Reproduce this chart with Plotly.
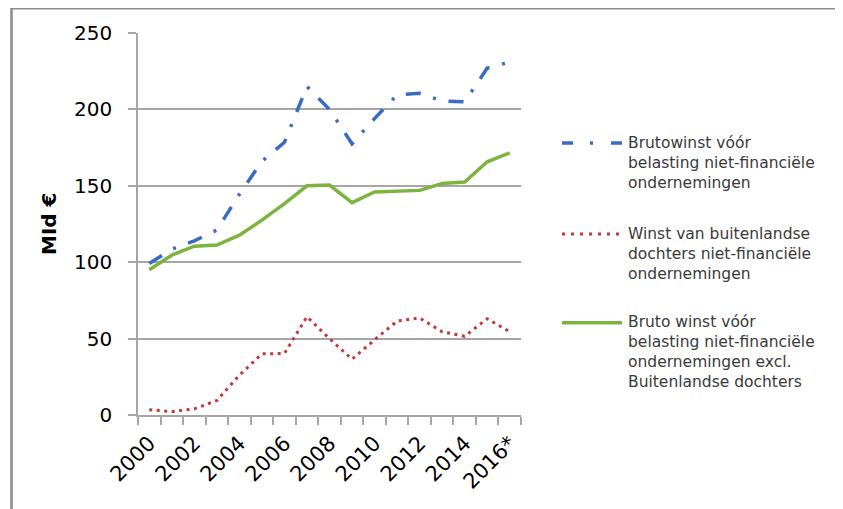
import plotly.graph_objects as go

# ---------------- data ----------------
years = list(range(2000, 2017))
tick_years = [2000, 2002, 2004, 2006, 2008, 2010, 2012, 2014, 2016]
tick_labels = ["2000", "2002", "2004", "2006", "2008", "2010", "2012", "2014", "2016*"]

brutowinst = [99.2, 108.5, 114, 121, 144.5, 166, 178.5, 215, 200, 177.5,
              194, 209.5, 210.5, 205.5, 205, 227, 231]
winst_dochters = [3.5, 2.2, 4, 9.5, 26, 40, 40.3, 64.3, 50, 36.5,
                  49.2, 61.5, 63.5, 54.5, 51.5, 63, 54.5]
bruto_excl = [95, 104.6, 110.5, 111.2, 117.7, 127.5, 138.3, 150, 150.5, 139,
              146, 146.7, 147, 151.5, 152.5, 165.7, 171.6]

series_names = [
    "Brutowinst vóór<br>belasting niet-financiële<br>ondernemingen",
    "Winst van buitenlandse<br>dochters niet-financiële<br>ondernemingen",
    "Bruto winst vóór<br>belasting niet-financiële<br>ondernemingen excl.<br>Buitenlandse dochters",
]
series_values = [brutowinst, winst_dochters, bruto_excl]
series_colors = ["#3A6BC3", "#C0393B", "#7DB33F"]
series_widths = [3.5, 3, 3.5]
series_dash = ["15px,13px,3px,13px", "3px,4.5px", "solid"]
legend_dash = ["11px,17px,3px,18px", "3px,6px", "solid"]

# ---------------- layout geometry (page pixels; page has 8px body margin) ----------------
OFF = 8
W, H = 843 - OFF, 509 - OFF
PLOT_X0, PLOT_X1, PLOT_Y0, PLOT_Y1 = 138, 521, 33, 415
L = PLOT_X0 - OFF
T = PLOT_Y0 - OFF
R = W - (PLOT_X1 - OFF)
B = H - (PLOT_Y1 - OFF)
PW, PH = PLOT_X1 - PLOT_X0, PLOT_Y1 - PLOT_Y0


def px_x(px):
    return (px - PLOT_X0) / PW


def px_y(py):
    return (PLOT_Y1 - py) / PH


FONT = "DejaVu Sans, Verdana, sans-serif"
GRID = "#A6A6A6"

fig = go.Figure()
for name, vals, col, w, d in zip(series_names, series_values, series_colors,
                                  series_widths, series_dash):
    fig.add_trace(go.Scatter(x=years, y=vals, mode="lines", name=name,
                             line=dict(color=col, width=w, dash=d),
                             showlegend=False, hoverinfo="skip"))

# manual legend (symbols + text) on the right
legend_rows = [143, 234, 322.7]
legend_text_mid = [163, 253.5, 352]
shapes = []
annotations = []
for i, (name, col, w) in enumerate(zip(series_names, series_colors, series_widths)):
    x_end = 622 if i != 1 else 619
    shapes.append(dict(type="line", xref="paper", yref="paper",
                       x0=px_x(562), x1=px_x(x_end),
                       y0=px_y(legend_rows[i]), y1=px_y(legend_rows[i]),
                       line=dict(color=col, width=w, dash=legend_dash[i])))
    annotations.append(dict(xref="paper", yref="paper", x=px_x(626),
                            y=px_y(legend_text_mid[i]), xanchor="left",
                            yanchor="middle", align="left", showarrow=False,
                            text=name, font=dict(family=FONT, size=15.5, color="#3A3A3A")))

# y-axis title
annotations.append(dict(xref="paper", yref="paper", x=px_x(49), y=px_y(224),
                        text="<b>MId €</b>", textangle=-90, showarrow=False,
                        xanchor="center", yanchor="middle",
                        font=dict(family=FONT, size=20, color="#000000")))

# outer frame
shapes.append(dict(type="rect", xref="paper", yref="paper",
                   x0=px_x(11.5), x1=px_x(840.3), y0=px_y(530), y1=px_y(8.2),
                   line=dict(color="#8C8C8C", width=2.6), layer="above"))

fig.update_layout(
    width=W, height=H,
    margin=dict(l=L, r=R, t=T, b=B, pad=0),
    paper_bgcolor="white", plot_bgcolor="white",
    showlegend=False,
    shapes=shapes, annotations=annotations,
    font=dict(family=FONT, color="#000000"),
)
fig.update_xaxes(
    range=[1999.5, 2016.5], tickmode="array", tickvals=tick_years, ticktext=tick_labels,
    tickangle=-45, tickfont=dict(family=FONT, size=21, color="#000000"),
    ticks="", showgrid=False, zeroline=False,
    showline=True, linecolor=GRID, linewidth=1.5,
    ticklabelstandoff=6,
    minor=dict(ticks="outside", ticklen=8, tickwidth=1.5, tickcolor=GRID,
               tick0=1999.5, dtick=1, showgrid=False),
)
fig.update_yaxes(
    range=[0, 250], dtick=50, tick0=0,
    tickfont=dict(family=FONT, size=20, color="#000000"),
    ticks="outside", ticklen=8, tickwidth=1.5, tickcolor=GRID,
    showgrid=True, gridcolor=GRID, gridwidth=1.5, zeroline=False,
    showline=True, linecolor=GRID, linewidth=1.5,
    ticklabelstandoff=12,
)

fig.write_html("out.html")
